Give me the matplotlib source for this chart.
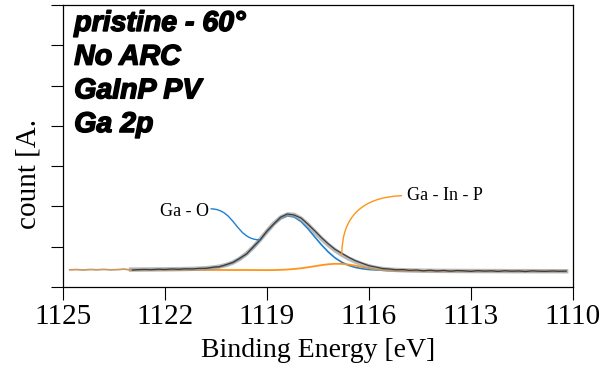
import numpy as np
import matplotlib.pyplot as plt
import matplotlib.patheffects as pe
from matplotlib.path import Path
from matplotlib.patches import PathPatch

# Ga 2p region, pristine sample at 60 deg, no anti-reflection coating.
# Energy axis of the scan: 1124.8 eV down to 1110.2 eV in 0.2 eV steps.
binding_energy = np.linspace(1124.8, 1110.2, 74)

counts = [
    0.425, 0.432, 0.421, 0.434, 0.426, 0.437, 0.424, 0.431, 0.445, 0.418,
    0.430, 0.436, 0.429, 0.441, 0.433, 0.447, 0.438, 0.452, 0.447, 0.463,
    0.461, 0.492, 0.503, 0.557, 0.612, 0.716, 0.822, 1.003, 1.172, 1.392,
    1.566, 1.735, 1.812, 1.786, 1.712, 1.561, 1.398, 1.227, 1.072, 0.935,
    0.836, 0.737, 0.652, 0.589, 0.527, 0.494, 0.458, 0.447, 0.426, 0.433,
    0.414, 0.422, 0.401, 0.417, 0.398, 0.412, 0.392, 0.409, 0.401, 0.388,
    0.407, 0.394, 0.402, 0.386, 0.404, 0.391, 0.399, 0.383, 0.401, 0.392,
    0.387, 0.398, 0.389, 0.395,
]

# Shirley background
background = [0.420] * 22 + [
    0.419, 0.418, 0.417, 0.416, 0.415, 0.413, 0.410, 0.407, 0.404, 0.401,
    0.398, 0.395, 0.393, 0.391, 0.389, 0.388, 0.387, 0.386, 0.386,
] + [0.385] * 33

# fitted components, height above background
ga_o = [
    0.006, 0.006, 0.006, 0.007, 0.007, 0.008, 0.008, 0.009, 0.010, 0.010,
    0.011, 0.012, 0.014, 0.015, 0.017, 0.018, 0.021, 0.024, 0.028, 0.034,
    0.043, 0.058, 0.083, 0.124, 0.186, 0.279, 0.406, 0.569, 0.759, 0.962,
    1.152, 1.297, 1.367, 1.343, 1.232, 1.061, 0.860, 0.661, 0.484, 0.338,
    0.229, 0.152, 0.101, 0.069, 0.049, 0.038, 0.030, 0.025, 0.022, 0.019,
    0.017, 0.016, 0.014, 0.013, 0.012, 0.011, 0.010, 0.009, 0.009, 0.008,
    0.007, 0.007, 0.006, 0.006, 0.006, 0.005, 0.005, 0.005, 0.005, 0.004,
    0.004, 0.004, 0.004, 0.003,
]
ga_in_p = [0.002] * 20 + [
    0.003, 0.003, 0.004, 0.004, 0.005, 0.006, 0.007, 0.008, 0.010, 0.012,
    0.017, 0.025, 0.036, 0.052, 0.072, 0.098, 0.126, 0.154, 0.177, 0.190,
    0.188, 0.172, 0.145, 0.112, 0.080, 0.053, 0.034, 0.022, 0.015, 0.011,
    0.009, 0.007, 0.006, 0.005,
] + [0.004] * 10 + [0.003] * 10

sample_lines = ["pristine - 60°", "No ARC", "GaInP PV", "Ga 2p"]
x_ticks = [1125, 1122, 1119, 1116, 1113, 1110]

BLUE = "#1f7fcf"
ORANGE = "#ff9419"
SERIF = "Liberation Serif"
FIT_START = 9  # fit window starts at 1123.0 eV

bg = np.array(background)
ga_o_line = bg + np.array(ga_o)
ga_in_p_line = bg + np.array(ga_in_p)
envelope = bg + np.array(ga_o) + np.array(ga_in_p)

fig = plt.figure(figsize=(6.13, 3.72), dpi=100)
ax = fig.add_axes([0.1028, 0.2285, 0.8319, 0.7581])

fit = slice(FIT_START, None)
ax.plot(binding_energy[fit], ga_o_line[fit], color=BLUE, lw=1.2, zorder=2)
ax.plot(binding_energy[fit], ga_in_p_line[fit], color=ORANGE, lw=1.3, zorder=3)
ax.plot(binding_energy[fit], envelope[fit], color="#9a9a9a", lw=3.2,
        alpha=0.7, zorder=4)
ax.plot(binding_energy[fit], counts[FIT_START:], color="#3c3c3c", lw=0.9,
        zorder=5)
ax.plot(binding_energy[:FIT_START + 1], counts[:FIT_START + 1],
        color="#c99a66", lw=1.3, zorder=5)

# peak labels
ax.text(1120.72, 1.87, "Ga - O", ha="right", va="center",
        family=SERIF, fontsize=13)
start = (1120.66, 1.94)
end = (binding_energy[28], ga_o_line[28])
mid = (start[0] + end[0]) / 2
s_curve = Path([start, (mid, start[1]), (mid, end[1]), end],
               [Path.MOVETO, Path.CURVE4, Path.CURVE4, Path.CURVE4])
ax.add_patch(PathPatch(s_curve, fc="none", ec=BLUE, lw=1.0, zorder=6))

ax.annotate("Ga - In - P", xy=(binding_energy[40], envelope[40]),
            xytext=(1114.88, 2.27), ha="left", va="center",
            family=SERIF, fontsize=13,
            arrowprops=dict(arrowstyle="-", color=ORANGE, lw=1.0,
                            relpos=(0, 0.5), shrinkA=2, shrinkB=0,
                            connectionstyle="angle3,angleA=0,angleB=90"),
            zorder=6)

heavy = [pe.withStroke(linewidth=1.1, foreground="black")]
for i, line in enumerate(sample_lines):
    ax.text(0.022, 0.908 - i * 0.1195, line, transform=ax.transAxes,
            family="Liberation Sans", fontweight="bold", fontstyle="italic",
            fontsize=20.5, va="baseline", ha="left", path_effects=heavy)

ax.set_xlim(1125, 1110)
ax.set_ylim(0, 7)
ax.set_xticks(x_ticks)
ax.set_xticklabels([str(t) for t in x_ticks], family=SERIF, fontsize=21)
ax.set_yticks(range(8))
ax.set_yticklabels([])
ax.tick_params(axis="both", direction="out", length=9, width=0.8, color="black")
ax.tick_params(axis="x", pad=3)
for spine in ax.spines.values():
    spine.set_linewidth(0.9)
    spine.set_color("black")

ax.set_xlabel("Binding Energy [eV]", family=SERIF, fontsize=20, labelpad=6)
fig.text(28 / 613, 1 - 174 / 372, "count [A.", rotation=90, ha="center",
         va="center", family=SERIF, fontsize=21)

fig.savefig("out.png", dpi=100)
